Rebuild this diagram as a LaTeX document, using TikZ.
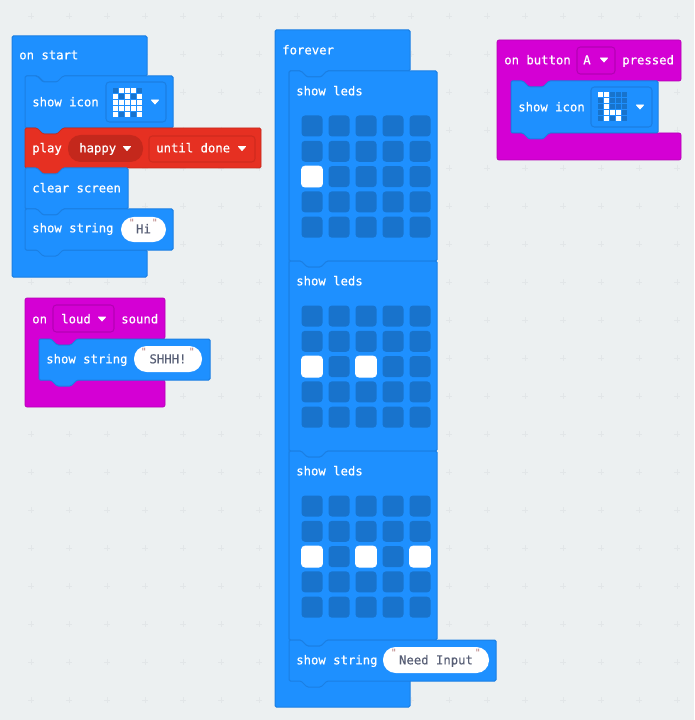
\documentclass[tikz,border=0pt]{standalone}
\usepackage{fontspec}
\newfontfamily\blockfont[FakeBold=0.6]{DejaVu Sans Mono}
\newfontfamily\pillfont[FakeBold=0.3]{DejaVu Sans Mono}
\newfontfamily\quotefont{DejaVu Sans Mono}
\definecolor{bgc}{HTML}{ECF0F1}
\definecolor{crossc}{HTML}{E2E6E8}
\definecolor{bluec}{HTML}{1E90FF}
\definecolor{blueb}{HTML}{1B7FE3}
\definecolor{ledc}{HTML}{1873CC}
\definecolor{magc}{HTML}{D400D4}
\definecolor{magb}{HTML}{B400B4}
\definecolor{redc}{HTML}{E63022}
\definecolor{redb}{HTML}{C4281C}
\definecolor{redf}{HTML}{CF2B1E}
\definecolor{inkc}{HTML}{575E75}
\definecolor{quotec}{HTML}{B57A7A}
\tikzset{
  bluebk/.style={fill=bluec,draw=blueb,line width=0.75pt,rounded corners=1pt},
  magbk/.style={fill=magc,draw=magb,line width=0.5pt,rounded corners=1.5pt},
  redbk/.style={fill=redc,draw=redb,line width=0.5pt,rounded corners=1pt},
  lbl/.style={anchor=base west,inner sep=0pt,yshift=-0.25pt,text=white,font=\blockfont\fontsize{9.2pt}{11pt}\selectfont},
  pilltxt/.style={anchor=base,inner sep=0pt,yshift=-0.25pt,text=inkc,font=\pillfont\fontsize{9.2pt}{11pt}\selectfont},
  quo/.style={anchor=center,inner sep=0pt,text=quotec,font=\quotefont\fontsize{7.5pt}{8pt}\selectfont},
  pillshape/.style={fill=white,rounded corners=9.4pt},
  fieldbox/.style={draw=#1,line width=0.8pt,rounded corners=2.5pt},
  led/.style={fill=ledc,rounded corners=2.6pt},
  ledon/.style={fill=white,draw=white,line width=0.6pt,rounded corners=2.6pt},
  icondark/.style={fill=ledc},
  iconlit/.style={fill=white},
  caretmark/.style={fill=white,draw=white,line width=0.6pt,line join=round}
}
% stacked block: x0,x1,y0,y1,style
\newcommand{\stackbk}[5]{%
  \path[#5] (#1,#3) -- ({#1+12},#3) -- ({#1+18},{#3+6}) -- ({#1+32},{#3+6}) -- ({#1+38},#3)
    -- (#2,#3) -- (#2,#4) -- ({#1+38},#4) -- ({#1+32},{#4+6}) -- ({#1+18},{#4+6}) -- ({#1+12},#4)
    -- (#1,#4) -- cycle;}
% C-shaped container: x0,x1,ytop,ybar,yfoot,ybottom,style
\newcommand{\capbk}[7]{%
  \path[#7] (#1,#3) -- (#2,#3) -- (#2,#4) -- ({#1+14+38},#4) -- ({#1+14+32},{#4+6}) -- ({#1+14+18},{#4+6})
    -- ({#1+14+12},#4) -- ({#1+14},#4) -- ({#1+14},#5) -- (#2,#5) -- (#2,#6) -- (#1,#6) -- cycle;}
\newcommand{\caretat}[2]{\path[caretmark] ({#1-3.6},{#2-2}) -- ({#1+3.6},{#2-2}) -- (#1,{#2+2}) -- cycle;}
% LED matrix, y of first row centre
\newcommand{\ledmatrix}[2]{%
  \foreach \rr in {0,...,4}{\foreach \cc in {0,...,4}{
    \path[led] ({312+27*\cc-10.5},{#1+25.3*\rr-10.5}) rectangle +(21,21);}}
  \foreach \cc in {#2}{
    \path[ledon] ({312+27*\cc-10.5},{#1+25.3*2-10.5}) rectangle +(21,21);}}
% icon matrix: x0,y0, list of lit c/r
\newcommand{\iconmatrix}[3]{%
  \foreach \rr in {0,...,4}{\foreach \cc in {0,...,4}{
    \path[icondark] ({#1+6*\cc},{#2+6*\rr}) rectangle +(5,5);}}
  \foreach \cc/\rr in {#3}{
    \path[iconlit] ({#1+6*\cc},{#2+6*\rr}) rectangle +(5,5);}}
\begin{document}
\begin{tikzpicture}[x=0.75pt,y=-0.75pt]
\path[use as bounding box,fill=bgc] (0,0) rectangle (694,720);
\foreach \gx in {31,69,...,680}{\foreach \gy in {16,54,...,710}{
  \draw[crossc,line width=0.6pt] ({\gx-3},\gy) -- ({\gx+3},\gy) ({\gx},{\gy-3}) -- ({\gx},{\gy+3});}}

% on start
\capbk{12}{147}{36}{76}{250}{277}{bluebk}
\node[lbl] (onstart) at (19,59) {on start};
\stackbk{25}{173}{76}{128}{bluebk}
\node[lbl] (showicon1) at (32,106) {show icon};
\path[fieldbox=blueb] (106,82) rectangle (166,122);
\iconmatrix{113}{88}{1/0,2/0,3/0,0/1,2/1,4/1,0/2,1/2,2/2,3/2,4/2,0/3,1/3,2/3,3/3,4/3,0/4,2/4,4/4}
\caretat{155}{102}
\stackbk{25}{261}{128}{168}{redbk}
\node[lbl] (play) at (32,152) {play};
\path[fill=redb,rounded corners=9.5pt] (68,135) rectangle (143,162);
\node[lbl] (happy) at (79,152) {happy};
\caretat{127}{148.5}
\path[fieldbox=redf] (149,136) rectangle (255,162);
\node[lbl] (untildone) at (156,152) {until done};
\caretat{242}{148.5}
\stackbk{25}{128}{168}{209}{bluebk}
\node[lbl] (clear) at (32,192) {clear screen};
\stackbk{25}{173}{209}{250}{bluebk}
\node[lbl] (showstr1) at (32,232) {show string};
\path[pillshape] (121,217) rectangle (166,242);
\node[pilltxt] (hi) at (143.5,233) {Hi};
\node[quo] (hiq1) at (132,223) {"};
\node[quo] (hiq2) at (155,223) {"};

% loud sound
\capbk{25}{165}{298}{339}{380}{407}{magbk}
\node[lbl] (on) at (32,323) {on};
\path[fieldbox=magb] (53,305) rectangle (114,332);
\node[lbl] (loud) at (61,323) {loud};
\caretat{102}{319}
\node[lbl] (sound) at (121,323) {sound};
\stackbk{39}{210}{339}{380}{bluebk}
\node[lbl] (showstr2) at (46,363) {show string};
\path[pillshape] (134,346) rectangle (202,372);
\node[pilltxt] (shhh) at (168,363) {SHHH!};
\node[quo] (shq1) at (144,352) {"};
\node[quo] (shq2) at (192,352) {"};

% forever
\capbk{275}{410}{30}{71}{640}{707}{bluebk}
\node[lbl] (forever) at (282,54) {forever};
\stackbk{289}{437}{71}{261}{bluebk}
\node[lbl] (leds1) at (296,95) {show leds};
\ledmatrix{126}{0}
\stackbk{289}{437}{261}{451}{bluebk}
\node[lbl] (leds2) at (296,285) {show leds};
\ledmatrix{316}{0,2}
\stackbk{289}{437}{451}{640}{bluebk}
\node[lbl] (leds3) at (296,475) {show leds};
\ledmatrix{506}{0,2,4}
\stackbk{289}{496}{640}{681}{bluebk}
\node[lbl] (showstr3) at (296,664) {show string};
\path[pillshape] (383,647) rectangle (489,673);
\node[pilltxt] (need) at (436,664) {Need Input};
\node[quo] (nq1) at (394,653) {"};
\node[quo] (nq2) at (478,653) {"};

% button A
\capbk{497}{681}{40}{81}{133}{160}{magbk}
\node[lbl] (onbutton) at (504,64) {on button};
\path[fieldbox=magb] (577,47) rectangle (615,74);
\node[lbl] (abtn) at (583,64) {A};
\caretat{604}{60}
\node[lbl] (pressed) at (622,64) {pressed};
\stackbk{511}{658}{81}{133}{bluebk}
\node[lbl] (showicon2) at (518,111) {show icon};
\path[fieldbox=blueb] (591,87) rectangle (652,127);
\iconmatrix{598}{92}{0/0,1/0,1/1,1/2,1/3,2/3,3/3,1/4,3/4}
\caretat{640}{107}
\end{tikzpicture}
\end{document}
